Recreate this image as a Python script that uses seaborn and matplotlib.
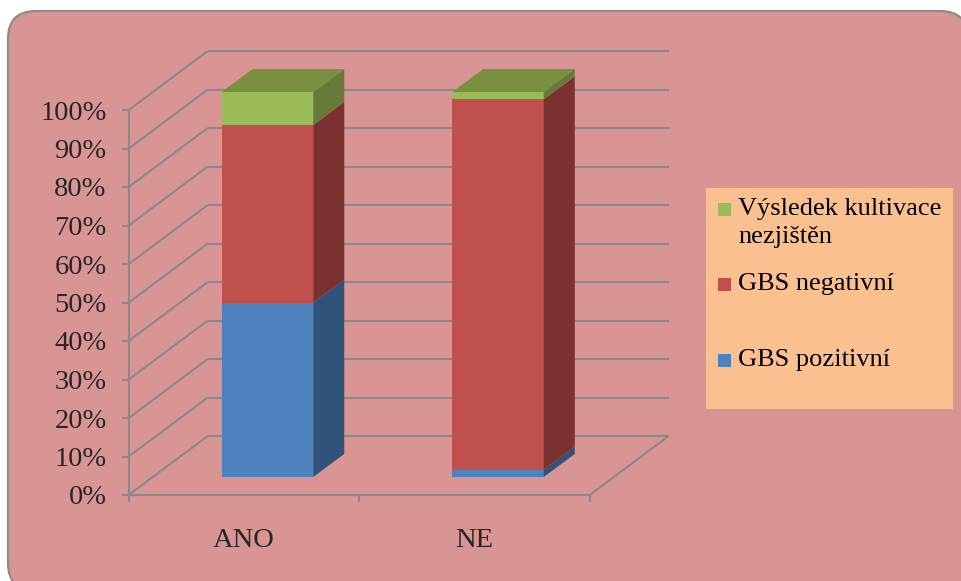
import numpy as np
import matplotlib
matplotlib.use("Agg")
import matplotlib.pyplot as plt
from matplotlib.patches import Polygon, FancyBboxPatch, Rectangle
from matplotlib.transforms import IdentityTransform
import seaborn as sns

# --- data (percent of each group) ---
categories = ["ANO", "NE"]
gbs_pozitivni = [45.3, 1.9]
gbs_negativni = [46.1, 96.2]
nezjisteno = [8.6, 1.9]
series_names = ["GBS pozitivní", "GBS negativní", "Výsledek kultivace\nnezjištěn"]
y_ticks = [0, 10, 20, 30, 40, 50, 60, 70, 80, 90, 100]
y_tick_labels = [f"{v}%" for v in y_ticks]

# --- styling ---
front_colors = ["#4F81BD", "#C0504D", "#9BBB59"]
side_colors = ["#30527B", "#7A3130", "#677A37"]
top_color = "#78903F"
bg_color = "#D99594"
legend_bg = "#FAC090"
line_grey = "#898989"

W, H, DPI = 962, 581, 100
sns.set_theme(style="white")
plt.rcParams["font.family"] = ["Liberation Serif", "DejaVu Serif"]

fig = plt.figure(figsize=(W / DPI, H / DPI), dpi=DPI)
fig.patch.set_facecolor("white")


def px_box(left, top, width, height):
    return [left / W, (H - top - height) / H, width / W, height / H]


# rounded chart-area frame
frame = FancyBboxPatch((8, -10), 960, 580, boxstyle="round,pad=0,rounding_size=28",
                       facecolor=bg_color, edgecolor="#8C8C8C", linewidth=1.6,
                       transform=IdentityTransform(), zorder=-5)
fig.add_artist(frame)

# geometry of the oblique projection (pixels)
AX_W, AX_H = 461, 385
BAR_LEFT, BAR_TOP = 152.25, 92
FRONT_OFF = (-23.5, -18)     # front plane relative to bar-front plane
BACK_OFF = (55.5, 41)        # back wall relative to bar-front plane
DEPTH = (31, 23)             # bar depth
bar_w = 91.5 / 230.5

# front-plane axes: value axis, category axis and floor edge
ax_f = fig.add_axes(px_box(BAR_LEFT + FRONT_OFF[0], BAR_TOP - FRONT_OFF[1], AX_W, AX_H))
ax_f.set_zorder(1)
ax_f.set_facecolor("none")
ax_f.set_xlim(-0.5, 1.5)
ax_f.set_ylim(0, 100)
for s in ["top", "right"]:
    ax_f.spines[s].set_visible(False)
for s in ["left", "bottom"]:
    ax_f.spines[s].set_color(line_grey)
    ax_f.spines[s].set_linewidth(1.5)
ax_f.set_yticks(y_ticks, y_tick_labels)
ax_f.set_xticks([-0.5, 0.5, 1.5], ["", "", ""])
ax_f.set_xticks([0, 1], categories, minor=True)
ax_f.tick_params(axis="y", direction="out", length=5, width=1.5, color=line_grey,
                 labelsize=20.5, pad=11, left=True)
ax_f.tick_params(axis="x", which="major", direction="out", length=5, width=1.5,
                 color=line_grey, bottom=True)
ax_f.tick_params(axis="x", which="minor", length=0, labelsize=20.5, pad=24)

# bar-plane axes
ax = fig.add_axes(px_box(BAR_LEFT, BAR_TOP, AX_W, AX_H))
ax.set_zorder(2)
ax.set_facecolor("none")

stack = np.array([gbs_pozitivni, gbs_negativni, nezjisteno])
tops = np.cumsum(stack, axis=0)
bottoms = tops - stack

for k in reversed(range(3)):
    sns.barplot(x=categories, y=tops[k], color=front_colors[k], saturation=1,
                width=bar_w, errorbar=None, linewidth=0, zorder=3, ax=ax)

ax.set_xlim(-0.5, 1.5)
ax.set_ylim(0, 100)
ax.set_xticks([])
ax.set_yticks([])
ax.set_xlabel("")
ax.set_ylabel("")
for s in ax.spines.values():
    s.set_visible(False)

sx = AX_W / 2.0
sy = AX_H / 100.0


def off(p):
    return p[0] / sx, p[1] / sy


fx, fy = off(FRONT_OFF)
bx, by = off(BACK_OFF)
ddx, ddy = off(DEPTH)

line_kw = dict(color=line_grey, linewidth=1.5, clip_on=False, zorder=1,
               solid_capstyle="butt")
for v in y_ticks:
    ax.plot([-0.5 + bx, 1.5 + bx], [v + by, v + by], **line_kw)
    ax.plot([-0.5 + fx, -0.5 + bx], [v + fy, v + by], **line_kw)
ax.plot([1.5 + fx, 1.5 + bx], [fy, by], **line_kw)

# side and top faces of the stacked bars
for i in range(len(categories)):
    xr = i + bar_w / 2
    xl = i - bar_w / 2
    for k in range(3):
        b, t = bottoms[k][i], tops[k][i]
        side = Polygon([(xr, b), (xr + ddx, b + ddy), (xr + ddx, t + ddy), (xr, t)],
                       closed=True, facecolor=side_colors[k], edgecolor="none",
                       clip_on=False, zorder=3)
        ax.add_patch(side)
    t = tops[-1][i]
    top = Polygon([(xl, t), (xr, t), (xr + ddx, t + ddy), (xl + ddx, t + ddy)],
                  closed=True, facecolor=top_color, edgecolor="none",
                  clip_on=False, zorder=3)
    ax.add_patch(top)

# legend box
fig.add_artist(Rectangle((706 / W, 1 - 409 / H), (953 - 706) / W, (409 - 188) / H,
                         transform=fig.transFigure, facecolor=legend_bg,
                         edgecolor="none", zorder=3))
# (series index, marker centre y, y of the label's top) in pixels
entry_rows = [(2, 209, 198), (1, 284, 273), (0, 360, 349)]
for k, cy, ytop in entry_rows:
    fig.add_artist(Rectangle((718 / W, 1 - (cy + 6.5) / H), 13 / W, 13 / H,
                             transform=fig.transFigure, facecolor=front_colors[k],
                             edgecolor="none", zorder=4))
    fig.text(738 / W, 1 - ytop / H, series_names[k], fontsize=19, va="top",
             ha="left", color="black", zorder=5, linespacing=1.35)

fig.savefig("out.png", dpi=DPI)
